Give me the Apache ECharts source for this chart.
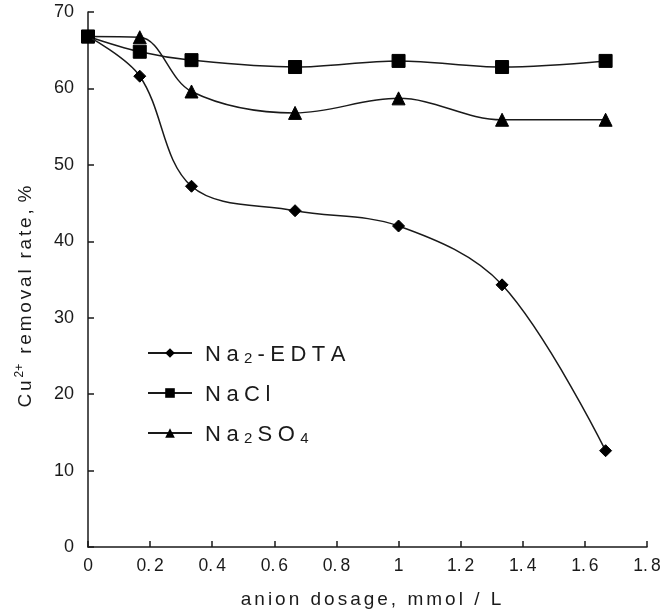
<!DOCTYPE html>
<html>
<head>
<meta charset="utf-8">
<script src="https://cdn.jsdelivr.net/npm/echarts@6/dist/echarts.min.js"></script>
<style>html,body{margin:0;padding:0;background:#fff}#c{width:660px;height:610px}</style>
</head>
<body>
<div id="c"></div>
<script>
const dosage = [0, 0.1667, 0.3333, 0.6667, 1.0, 1.3333, 1.6667];
const edta = [66.8, 61.6, 47.2, 44.0, 42.0, 34.3, 12.6];
const nacl = [66.8, 64.8, 63.7, 62.8, 63.6, 62.8, 63.6];
const na2so4 = [66.8, 66.7, 59.6, 56.8, 58.7, 55.9, 55.9];
const seriesNames = ['Na2-EDTA', 'NaCl', 'Na2SO4'];
const xTicks = ['0', '0.2', '0.4', '0.6', '0.8', '1', '1.2', '1.4', '1.6', '1.8'];
const yTicks = ['0', '10', '20', '30', '40', '50', '60', '70'];
const xTitle = 'anion dosage, mmol / L';

const chart = echarts.init(document.getElementById('c'), null, {renderer: 'canvas'});
const ink = '#1a1a1a';
const font = 'Liberation Sans, Arial, sans-serif';

// letter-spaced rich text: each character its own token
function spacedTokens(str, style) {
  let out = '';
  for (const ch of str) out += '{' + style + '|' + ch + '}';
  return out;
}
function tickText(str) {
  let out = '';
  for (const ch of str) out += (ch === '.' ? '{d|.}' : '{k|' + ch + '}');
  return out;
}
function legendText(name) {
  let out = '';
  for (const ch of name) {
    if (/[0-9]/.test(ch)) out += '{s|' + ch + '}';
    else out += '{n|' + ch + '}';
  }
  return out;
}

function pairs(vals) { return dosage.map((x, i) => [x, vals[i]]); }

const symbols = ['diamond', 'rect', 'triangle'];
const sizes = [12, 13, 13];
const values = [edta, nacl, na2so4];

chart.setOption({
  animation: false,
  backgroundColor: '#fff',
  grid: {left: 88, right: 13, top: 12, bottom: 63, containLabel: false, outerBoundsMode: 'none'},
  legend: {
    orient: 'vertical',
    left: 142,
    top: 339,
    itemWidth: 44,
    itemHeight: 12,
    itemGap: 18,
    data: seriesNames,
    formatter: legendText,
    textStyle: {
      color: ink,
      fontFamily: font,
      padding: [0, 0, 0, 8],
      rich: {
        n: {fontSize: 22, fontFamily: font, color: ink, padding: [0, 5.5, 0, 0], lineHeight: 26, verticalAlign: 'bottom'},
        s: {fontSize: 15, fontFamily: font, color: ink, padding: [0, 5, 0, 0], lineHeight: 15, verticalAlign: 'bottom'}
      }
    }
  },
  xAxis: {
    type: 'value', min: 0, max: 1.8, interval: 0.2,
    name: spacedTokens(xTitle, 't'),
    nameLocation: 'middle', nameGap: 43,
    nameTextStyle: {
      color: ink, fontFamily: font, padding: [0, 0, 0, 10],
      rich: {t: {fontSize: 19, color: ink, fontFamily: font, padding: [0, 3, 0, 0]}}
    },
    axisLine: {lineStyle: {color: ink, width: 1.5}},
    axisTick: {inside: true, length: 6, lineStyle: {color: ink, width: 1.5}},
    axisLabel: {color: ink, fontFamily: font, margin: 10,
      formatter: v => tickText(xTicks[Math.round(v / 0.2)]),
      rich: {
        k: {fontSize: 17.5, color: ink, fontFamily: font},
        d: {fontSize: 17.5, color: ink, fontFamily: font, padding: [0, 3, 0, 0]}
      }
    },
    splitLine: {show: false}
  },
  yAxis: {
    type: 'value', min: 0, max: 70, interval: 10,
    name: '{a|C}{a|u}{sup|2+}' + spacedTokens(' removal rate,', 'a') + '{e|%}',
    nameLocation: 'middle', nameGap: 53, nameRotate: 90,
    nameTextStyle: {
      color: ink, fontFamily: font,
      rich: {
        a: {fontSize: 19, color: ink, fontFamily: font, padding: [0, 2.8, 0, 0], lineHeight: 21, verticalAlign: 'bottom'},
        e: {fontSize: 19, color: ink, fontFamily: font, padding: [0, 34, 0, 4], lineHeight: 21, verticalAlign: 'bottom'},
        sup: {fontSize: 12, color: ink, fontFamily: font, padding: [0, 2, 0, 0], lineHeight: 12, verticalAlign: 'top'}
      }
    },
    axisLine: {show: true, lineStyle: {color: ink, width: 1.5}},
    axisTick: {show: true, inside: true, length: 6, lineStyle: {color: ink, width: 1.5}},
    axisLabel: {fontSize: 18, color: ink, fontFamily: font, margin: 14, padding: [10, 0, 0, 0],
      formatter: v => yTicks[Math.round(v / 10)]},
    splitLine: {show: false}
  },
  series: seriesNames.map((n, i) => ({
    name: n,
    type: 'line',
    data: pairs(values[i]),
    smooth: 0.35,
    symbol: symbols[i],
    symbolSize: sizes[i],
    showAllSymbol: true,
    lineStyle: {color: ink, width: 1.5},
    itemStyle: {color: '#000', borderColor: '#000'},
    z: 3 - i
  }))
});
</script>
</body>
</html>
